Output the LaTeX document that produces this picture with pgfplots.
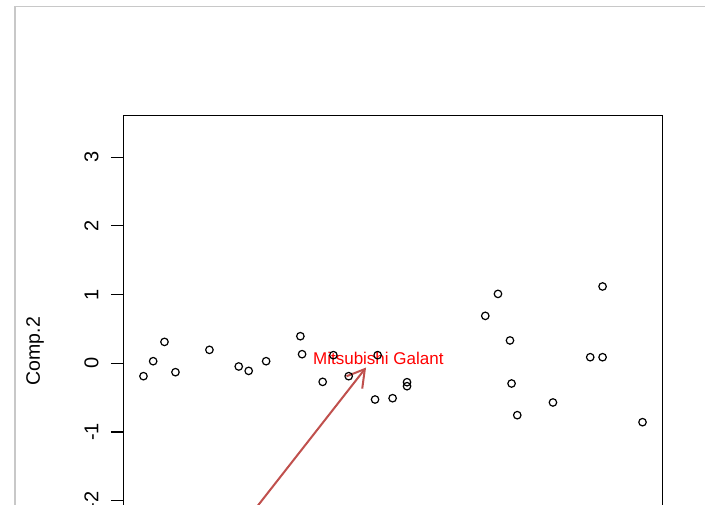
\documentclass[border=0pt]{standalone}
\usepackage{pgfplots}
\pgfplotsset{compat=1.18}
\usepackage{fontspec}
\setmainfont{Liberation Sans}
\usetikzlibrary{arrows.meta}
\definecolor{framegray}{RGB}{200,200,200}
\definecolor{arrowred}{RGB}{192,80,77}
\begin{document}
\begin{tikzpicture}[x=1pt,y=1pt]
\useasboundingbox (0pt,0pt) rectangle (705pt,504pt);
\begin{scope}
\clip (0pt,0pt) rectangle (705pt,504pt);
\fill[white] (0pt,0pt) rectangle (705pt,504pt);
\draw[framegray, line width=1.6pt] (14.7pt,-20pt) -- (14.7pt,497.5pt) -- (730pt,497.5pt);
\begin{axis}[
  at={(123.5pt,388.8pt)}, anchor=north west,
  scale only axis, width=539pt, height=472pt,
  xmin=-4.019, xmax=3.834, ymin=-3.262, ymax=3.611,
  axis line style={line width=1.3pt, black},
  xtick=\empty,
  ytick={-3,-2,-1,0,1,2,3},
  yticklabels={-3,-2,-1,0,1,2,3},
  ytick pos=left,
  tick align=outside,
  major tick length=12.6pt,
  tick style={black, line width=1.3pt},
  yticklabel style={xshift=-12.5pt, rotate=90, anchor=base, inner sep=0pt, font=\fontsize{20}{24}\selectfont},
  ylabel={Comp.2},
  every axis y label/.style={at={(rel axis cs:0,0.5)}, xshift=-83.5pt, rotate=90, anchor=base, inner sep=0pt, font=\fontsize{19.5}{23}\selectfont},
]
\addplot[only marks, mark=o, mark size=3.75pt, mark options={line width=1.2pt, black}] coordinates {
(-3.728,-0.189) (-3.587,0.029) (-3.422,0.310) (-3.262,-0.131)
(-2.767,0.194) (-2.340,-0.048) (-2.195,-0.112) (-1.941,0.029)
(-1.442,0.393) (-1.417,0.131) (-0.961,0.117) (-0.316,0.117)
(-1.117,-0.272) (-0.738,-0.189) (0.112,-0.277) (0.112,-0.335)
(-0.354,-0.529) (-0.098,-0.510)
(1.437,1.009) (1.252,0.689) (2.961,1.117) (1.612,0.331)
(2.781,0.087) (2.961,0.087) (1.635,-0.296) (2.238,-0.572)
(1.718,-0.757) (3.543,-0.859)
};
\addplot[arrowred, line width=2pt, -{Straight Barb[length=17pt, width=20pt, line width=2pt]}] coordinates {(-2.913,-3.160) (-0.485,-0.063)};
\node[text=red, inner sep=0pt, font=\fontsize{17}{20}\selectfont] at (axis cs:-0.306,0.073) {Mitsubishi Galant};
\end{axis}
\end{scope}
\end{tikzpicture}
\end{document}
